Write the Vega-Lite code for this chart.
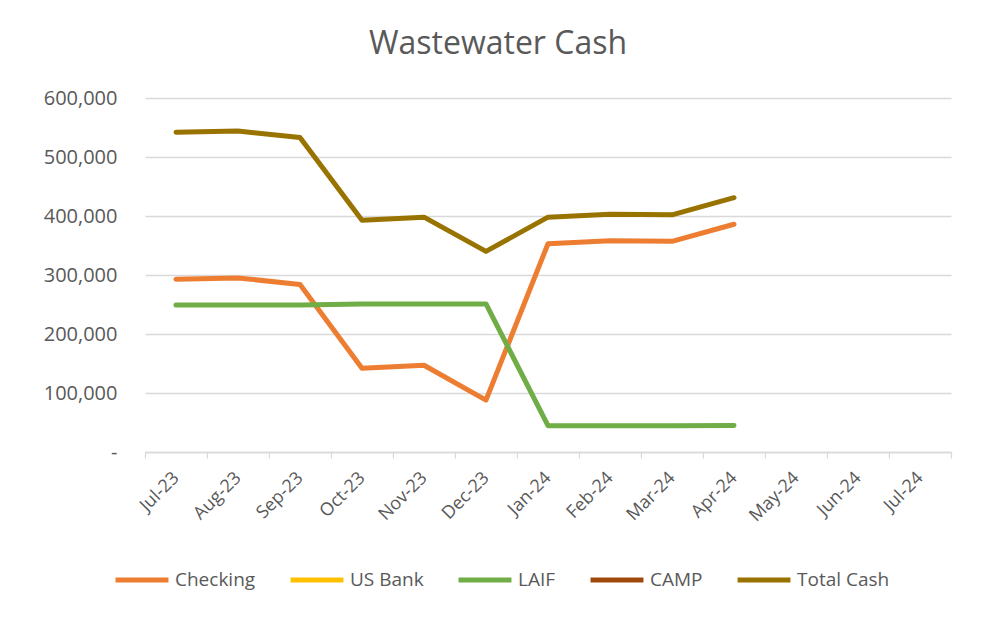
{
  "$schema": "https://vega.github.io/schema/vega-lite/v6.json",
  "width": 806,
  "height": 354,
  "autosize": "none",
  "padding": {"left": 145, "top": 98, "right": 39, "bottom": 169},
  "background": "white",
  "title": {
    "text": "Wastewater Cash",
    "anchor": "middle",
    "frame": "group",
    "dx": -50,
    "offset": 27,
    "font": "Open Sans",
    "fontSize": 32,
    "fontWeight": "normal",
    "color": "#595959"
  },
  "data": {
    "values": [
      {"month": "Jul-23", "series": "Checking", "value": 293000},
      {"month": "Aug-23", "series": "Checking", "value": 295000},
      {"month": "Sep-23", "series": "Checking", "value": 284000},
      {"month": "Oct-23", "series": "Checking", "value": 142000},
      {"month": "Nov-23", "series": "Checking", "value": 147000},
      {"month": "Dec-23", "series": "Checking", "value": 88000},
      {"month": "Jan-24", "series": "Checking", "value": 353000},
      {"month": "Feb-24", "series": "Checking", "value": 358000},
      {"month": "Mar-24", "series": "Checking", "value": 357000},
      {"month": "Apr-24", "series": "Checking", "value": 386000},
      {"month": "Jul-23", "series": "LAIF", "value": 249000},
      {"month": "Aug-23", "series": "LAIF", "value": 249000},
      {"month": "Sep-23", "series": "LAIF", "value": 249000},
      {"month": "Oct-23", "series": "LAIF", "value": 251000},
      {"month": "Nov-23", "series": "LAIF", "value": 251000},
      {"month": "Dec-23", "series": "LAIF", "value": 251000},
      {"month": "Jan-24", "series": "LAIF", "value": 44600},
      {"month": "Feb-24", "series": "LAIF", "value": 44600},
      {"month": "Mar-24", "series": "LAIF", "value": 44600},
      {"month": "Apr-24", "series": "LAIF", "value": 45000},
      {"month": "Jul-23", "series": "Total Cash", "value": 542000},
      {"month": "Aug-23", "series": "Total Cash", "value": 544000},
      {"month": "Sep-23", "series": "Total Cash", "value": 533000},
      {"month": "Oct-23", "series": "Total Cash", "value": 393000},
      {"month": "Nov-23", "series": "Total Cash", "value": 398000},
      {"month": "Dec-23", "series": "Total Cash", "value": 340000},
      {"month": "Jan-24", "series": "Total Cash", "value": 398000},
      {"month": "Feb-24", "series": "Total Cash", "value": 403000},
      {"month": "Mar-24", "series": "Total Cash", "value": 402000},
      {"month": "Apr-24", "series": "Total Cash", "value": 431000}
    ]
  },
  "mark": {"type": "line", "strokeWidth": 5, "strokeCap": "round", "strokeJoin": "round"},
  "encoding": {
    "x": {
      "field": "month",
      "type": "ordinal",
      "bandPosition": 0.5,
      "scale": {
        "type": "band",
        "paddingInner": 0,
        "paddingOuter": 0,
        "domain": ["Jul-23", "Aug-23", "Sep-23", "Oct-23", "Nov-23", "Dec-23", "Jan-24", "Feb-24", "Mar-24", "Apr-24", "May-24", "Jun-24", "Jul-24"]
      },
      "axis": {
        "title": null,
        "tickBand": "extent",
        "labelAngle": -45,
        "labelAlign": "right",
        "labelBaseline": "middle",
        "labelPadding": 17,
        "labelFont": "Open Sans",
        "labelFontSize": 18,
        "labelColor": "#595959",
        "domainColor": "#D9D9D9",
        "domainWidth": 1.3,
        "tickColor": "#D9D9D9",
        "tickWidth": 1.3,
        "tickSize": 6,
        "grid": false
      }
    },
    "y": {
      "field": "value",
      "type": "quantitative",
      "scale": {"domain": [0, 600000], "nice": false},
      "axis": {
        "title": null,
        "values": [0, 100000, 200000, 300000, 400000, 500000, 600000],
        "labelExpr": "datum.value == 0 ? '-' : format(datum.value, ',')",
        "labelPadding": 28,
        "labelFont": "Open Sans",
        "labelFontSize": 20,
        "labelColor": "#595959",
        "domain": false,
        "ticks": false,
        "grid": true,
        "gridColor": "#D9D9D9",
        "gridWidth": 1.3
      }
    },
    "color": {
      "field": "series",
      "type": "nominal",
      "scale": {
        "domain": ["Checking", "US Bank", "LAIF", "CAMP", "Total Cash"],
        "range": ["#ED7D31", "#FFC000", "#70AD47", "#9E480E", "#997300"]
      },
      "legend": {
        "title": null,
        "orient": "none",
        "legendX": -32,
        "legendY": 453,
        "direction": "horizontal",
        "columns": 5,
        "symbolType": "stroke",
        "symbolSize": 2800,
        "symbolStrokeWidth": 5,
        "labelOffset": 4,
        "columnPadding": 24,
        "labelFont": "Open Sans",
        "labelFontSize": 19,
        "labelColor": "#595959"
      }
    }
  },
  "config": {
    "view": {"stroke": null}
  }
}
